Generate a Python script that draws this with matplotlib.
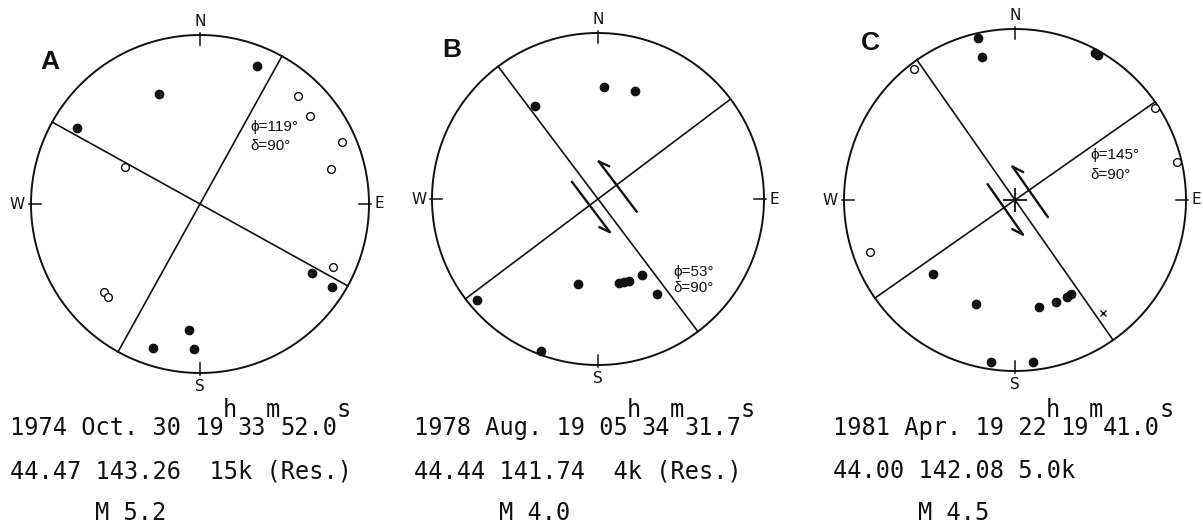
import matplotlib
matplotlib.use('Agg')
import matplotlib.pyplot as plt
import numpy as np

W, H = 1203, 526
INK = '#111111'

# panel centre (px) and net radius (px)
panel_cx = [200, 598, 1015]
panel_cy = [204, 199, 200]
panel_r = [169, 166, 171]
panel_names = ['A', 'B', 'C']
name_pos = [(-0.888, 0.84), (-0.88, 0.898), (-0.848, 0.918)]

# vertical nodal planes, strike in degrees
strikes_a = [119, 29]
strikes_b = [53, 143]
strikes_c = [145, 55]

# first motions, (east, north) on the unit net
# A
push_ax = [0.337, -0.243, -0.728, 0.663, 0.781, -0.065, -0.278, -0.036]
push_ay = [0.817, 0.651, 0.450, -0.408, -0.491, -0.746, -0.852, -0.858]
pull_ax = [0.580, 0.651, 0.840, 0.775, -0.444, 0.787, -0.568, -0.544]
pull_ay = [0.639, 0.521, 0.367, 0.207, 0.219, -0.373, -0.521, -0.550]
# B
push_bx = [0.036, 0.223, -0.380, -0.729, -0.120, 0.127, 0.157, 0.187, 0.265, 0.355, -0.343]
push_by = [0.675, 0.651, 0.560, -0.608, -0.512, -0.506, -0.500, -0.494, -0.458, -0.572, -0.916]
pull_bx = []
pull_by = []
# C
push_cx = [-0.218, -0.193, 0.470, 0.484, -0.481, -0.230, 0.142, 0.240, 0.302, 0.327, -0.140, 0.107]
push_cy = [0.949, 0.834, 0.858, 0.848, -0.433, -0.608, -0.624, -0.598, -0.565, -0.550, -0.949, -0.949]
pull_cx = [-0.589, 0.819, 0.945, -0.848]
pull_cy = [0.764, 0.536, 0.224, -0.306]
cross_cx = [0.513]
cross_cy = [-0.663]

phi_text = ['ϕ=119°', 'ϕ=53°', 'ϕ=145°']
delta_text = ['δ=90°', 'δ=90°', 'δ=90°']
text_pos = [(0.30, 0.456, 0.343), (0.452, -0.44, -0.536), (0.44, 0.263, 0.146)]

# slip arrows: fault strike, (offset across fault, sense along strike), half length
slip_b = (143, [(0.063, 1), (-0.14, -1)], 0.19)
slip_c = (145, [(0.078, 1), (-0.10, -1)], 0.18)

# event headers: date, origin time (h, m, s), location/depth, magnitude
dates = ['1974 Oct. 30', '1978 Aug. 19', '1981 Apr. 19']
hours = ['19', '05', '22']
minutes = ['33', '34', '19']
seconds = ['52.0', '31.7', '41.0']
locations = ['44.47 143.26  15k (Res.)', '44.44 141.74  4k (Res.)', '44.00 142.08 5.0k']
magnitudes = ['M 5.2', 'M 4.0', 'M 4.5']
text_x = [10, 414, 833]

panels = [
    (strikes_a, push_ax, push_ay, pull_ax, pull_ay, [], [], None, False),
    (strikes_b, push_bx, push_by, pull_bx, pull_by, [], [], slip_b, False),
    (strikes_c, push_cx, push_cy, pull_cx, pull_cy, cross_cx, cross_cy, slip_c, True),
]

fig = plt.figure(figsize=(W / 100, H / 100), dpi=100)
L = 1.3

MONO_PT = 17
CHAR_W = 0.602 * MONO_PT * 100 / 72  # advance of DejaVu Sans Mono in px

for i, (strikes, px, py, qx, qy, xx, xy, slip, centre_mark) in enumerate(panels):
    cx, cy, r = panel_cx[i], panel_cy[i], panel_r[i]
    ax = fig.add_axes([(cx - L * r) / W, (H - cy - L * r) / H, 2 * L * r / W, 2 * L * r / H])
    ax.set_xlim(-L, L)
    ax.set_ylim(-L, L)
    ax.axis('off')

    t = np.linspace(0, 2 * np.pi, 400)
    ax.plot(np.cos(t), np.sin(t), color=INK, lw=1.4)

    # N E S W ticks and letters
    for az, lab in zip([0, 90, 180, 270], ['N', 'E', 'S', 'W']):
        s, c = np.sin(np.radians(az)), np.cos(np.radians(az))
        ax.plot([0.94 * s, 1.01 * s], [0.94 * c, 1.01 * c], color=INK, lw=1.1)
        d = 1.06 if lab == 'E' else 1.08
        ax.text(d * s, d * c, lab, ha='center', va='center', fontsize=11,
                family='DejaVu Sans', color=INK)

    for st in strikes:
        s, c = np.sin(np.radians(st)), np.cos(np.radians(st))
        ax.plot([-s, s], [-c, c], color=INK, lw=1.2)

    ax.plot(px, py, 'o', ms=6.0, color=INK, mec=INK, zorder=4)
    ax.plot(qx, qy, 'o', ms=5.6, mfc='white', mec=INK, mew=1.0, zorder=4)
    if xx:
        ax.plot(xx, xy, 'x', ms=4.5, mew=1.0, color=INK, zorder=4)

    if slip is not None:
        st, arrows, half = slip
        d = np.array([np.sin(np.radians(st)), np.cos(np.radians(st))])
        p = np.array([np.cos(np.radians(st)), -np.sin(np.radians(st))])
        ang = np.radians(28)
        for off, sense in arrows:
            mid = off * p + 0.012 * d
            tail = mid - sense * half * d
            tip = mid + sense * half * d
            ax.plot([tail[0], tip[0]], [tail[1], tip[1]], color=INK, lw=1.7,
                    solid_capstyle='round')
            barb = tip + 0.07 * (-sense * d * np.cos(ang) + np.sign(off) * p * np.sin(ang))
            ax.plot([tip[0], barb[0]], [tip[1], barb[1]], color=INK, lw=1.7,
                    solid_capstyle='round')

    if centre_mark:
        ax.plot([0], [0], marker='+', ms=17, mew=1.3, color=INK, zorder=5)

    tx, ty1, ty2 = text_pos[i]
    ax.text(tx, ty1, phi_text[i], ha='left', va='center', fontsize=11,
            family=['Liberation Sans', 'DejaVu Sans'], color=INK)
    ax.text(tx, ty2, delta_text[i], ha='left', va='center', fontsize=11,
            family=['Liberation Sans', 'DejaVu Sans'], color=INK)

    nx, ny = name_pos[i]
    ax.text(nx, ny, panel_names[i], ha='center', va='center', fontsize=19,
            fontweight='bold', family='Liberation Sans', color=INK)

    # event header below each net, typed on a fixed character grid
    mono = dict(family='DejaVu Sans Mono', fontsize=MONO_PT, color=INK, ha='left', va='baseline')
    x0 = text_x[i]
    base_y = 1 - 435 / H
    sup_y = 1 - 417 / H
    pieces = [(dates[i] + ' ' + hours[i], base_y), ('h', sup_y),
              (minutes[i], base_y), ('m', sup_y),
              (seconds[i], base_y), ('s', sup_y)]
    col = 0
    for txt, yy in pieces:
        fig.text((x0 + col * CHAR_W) / W, yy, txt, **mono)
        col += len(txt)
    fig.text(x0 / W, 1 - 478 / H, locations[i], **mono)
    fig.text((x0 + 6 * CHAR_W) / W, 1 - 520 / H, magnitudes[i], **mono)

fig.savefig('out.png', dpi=100, facecolor='white')
